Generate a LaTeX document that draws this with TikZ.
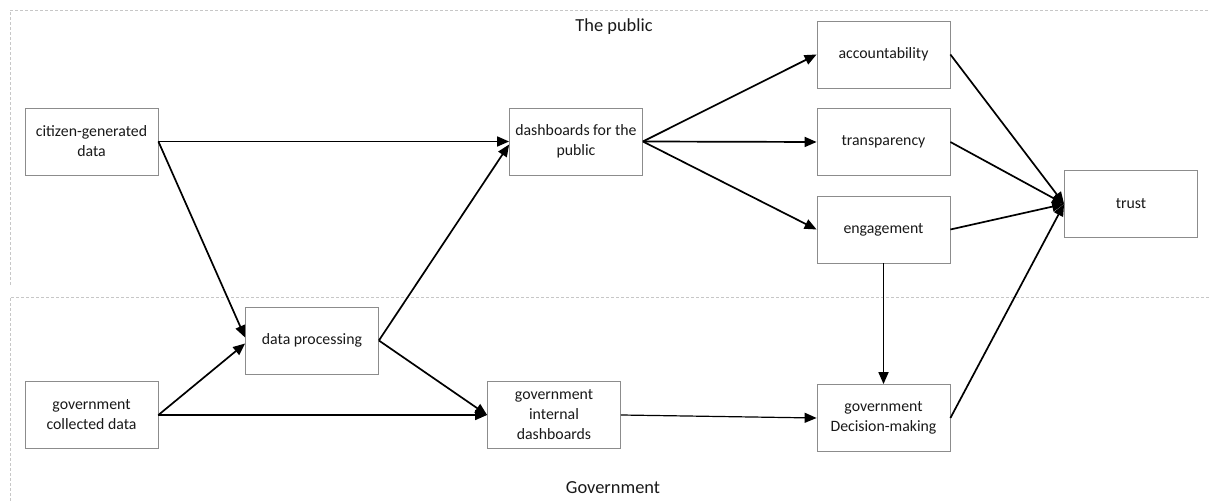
\documentclass[tikz,border=0pt]{standalone}
\usepackage{fontspec}
\setmainfont{Carlito}
\usepackage{tikz}
\usetikzlibrary{arrows.meta}
\tikzset{
  >={Triangle[length=6pt,width=5pt]},
  block/.style={draw=black!45, fill=white, text=black!90, align=center,
    minimum width=66.5pt, minimum height=33.5pt, inner sep=1pt,
    font=\fontsize{7.9}{10}\selectfont},
  region/.style={draw=black!22, dash pattern=on 1.5pt off 1pt, line width=0.4pt},
  heading/.style={text=black!90, font=\fontsize{9.2}{11}\selectfont},
  flow/.style={->, line width=0.85pt, black}
}

\begin{document}
\begin{tikzpicture}[x=0.5pt,y=-0.5pt]
      \useasboundingbox (0,0) rectangle (1210,501);
      \draw[region] (10,285) -- (10,10) -- (1209,10);
      \draw[region] (10,501) -- (10,297) -- (1209,297);
      \node[heading] (pub) at (614,27) {The public};
      \node[heading] (gov) at (613,488) {Government};

      \node[block] (cit) at (91.5,141.5) {citizen-generated\\data};
      \node[block] (gcol) at (91.5,415) {government\\collected data};
      \node[block] (proc) at (312,340.5) {data processing};
      \node[block] (dpub) at (576,141.5) {dashboards for the\\public};
      \node[block] (gint) at (554,415) {government\\internal\\dashboards};
      \node[block] (acc) at (883.5,54.5) {accountability};
      \node[block] (tra) at (883.5,142) {transparency};
      \node[block] (eng) at (883.5,229.5) {engagement};
      \node[block] (dec) at (883.5,418) {government\\Decision-making};
      \node[block] (trust) at (1131,204) {trust};

      \path[flow] (cit.east) edge (dpub.west)
      (cit.east) edge ([yshift=1.5pt]proc.west)
      (gcol.east) edge ([yshift=-1.5pt]proc.west)
      (gcol.east) edge (gint.west)
      (proc.east) edge ([yshift=-1.5pt]dpub.west)
      (proc.east) edge (gint.west)
      (dpub.east) edge (acc.west)
      (dpub.east) edge (tra.west)
      (dpub.east) edge (eng.west)
      (acc.east) edge (trust.west)
      (tra.east) edge (trust.west)
      (eng.east) edge (trust.west)
      (dec.east) edge (trust.west)
      (eng.south) edge (dec.north);
      \path[flow, line width=0.6pt] (gint.east) edge (dec.west);
    \end{tikzpicture}
\end{document}
